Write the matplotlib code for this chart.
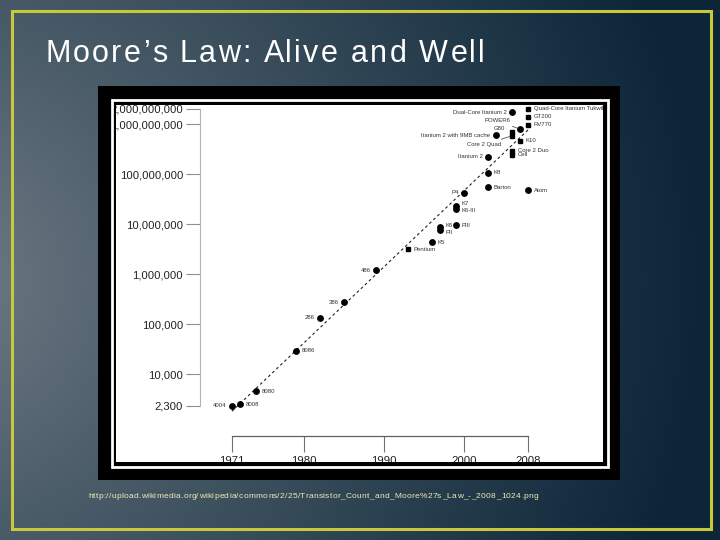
import numpy as np
import matplotlib
matplotlib.use('Agg')
import matplotlib.pyplot as plt
from matplotlib.patches import Rectangle
from matplotlib.ticker import NullLocator
from matplotlib.textpath import TextToPath
from matplotlib.font_manager import FontProperties

plt.rcParams['font.family'] = ['Liberation Sans', 'DejaVu Sans']

# transistor counts
chips = ['4004', '8008', '8080', '8086', '286', '386', '486', 'Pentium', 'K5',
         'K6', 'PII', 'PIII', 'K6-III', 'K7', 'P4', 'Barton', 'Atom', 'K8',
         'Itanium 2', 'Cell', 'Core 2 Duo', 'K10', 'Itanium 2 with 9MB cache',
         'Core 2 Quad', 'G80', 'POWER6', 'RV770', 'GT200',
         'Dual-Core Itanium 2', 'Quad-Core Itanium Tukwila']
years = [1971, 1972, 1974, 1979, 1982, 1985, 1989, 1993, 1996,
         1997, 1997, 1999, 1999, 1999, 2000, 2003, 2008, 2003,
         2003, 2006, 2006, 2007, 2004,
         2006, 2006, 2007, 2008, 2008,
         2006, 2008]
counts = [2300, 2500, 4500, 29000, 134000, 275000, 1200000, 3100000, 4300000,
          8800000, 7500000, 9500000, 19500000, 23000000, 42000000, 54300000, 47000000, 105900000,
          220000000, 241000000, 291000000, 463000000, 592000000,
          582000000, 681000000, 789000000, 956000000, 1400000000,
          1700000000, 2000000000]

# dashed trend line (doubling every ~2 years)
trend_years = [1971, 2008]
trend_counts = [1800, 760000000]

xtick_years = [1971, 1980, 1990, 2000, 2008]
ytick_vals = [2300, 1e4, 1e5, 1e6, 1e7, 1e8, 1e9, 2e9]
ytick_labels = ['2,300', '10,000', '100,000', '1,000,000', '10,000,000',
                '100,000,000', '1,000,000,000', '2,000,000,000']

title = 'Moore\u2019s Law: Alive and Well'
source = 'http://upload.wikimedia.org/wikipedia/commons/2/25/Transistor_Count_and_Moore%27s_Law_-_2008_1024.png'

# marker / label placement
squares = {'Pentium', 'Cell', 'Core 2 Duo', 'K10', 'Core 2 Quad', 'G80',
           'RV770', 'GT200', 'Quad-Core Itanium Tukwila'}
left_labels = {'4004', '286', '386', '486', 'P4', 'Itanium 2',
               'Itanium 2 with 9MB cache', 'G80', 'Dual-Core Itanium 2'}
label_shift = {'K7': (0, 1.5), 'K6-III': (0, -1.0), 'G80': (-1, 2.5),
               'K6': (0, 1.2), 'PII': (0, -1.4),
               'POWER6': (-7, 6), 'Core 2 Quad': (-7.5, -6.5)}
leaders = {'POWER6', 'Core 2 Quad'}

W, H = 720, 540
fig = plt.figure(figsize=(7.2, 5.4), dpi=100)


def fx(x):
    return x / W


def fy(y):
    return 1 - y / H


def px_rect(x0, y0, x1, y1, **kw):
    r = Rectangle((fx(x0), fy(y1)), (x1 - x0) / W, (y1 - y0) / H,
                  transform=fig.transFigure, **kw)
    fig.add_artist(r)
    return r


# slide background
ax_bg = fig.add_axes([0, 0, 1, 1], zorder=-5)
yy, xx = np.mgrid[0:H, 0:W]
t = np.clip(np.hypot(xx + 60, yy - 280) / 760, 0, 1) ** 0.9
c0 = np.array([112, 124, 134]) / 255
c1 = np.array([12, 38, 56]) / 255
ax_bg.imshow(c0 * (1 - t)[..., None] + c1 * t[..., None], aspect='auto')
ax_bg.axis('off')

px_rect(12, 10.5, 710.5, 529, fill=False, edgecolor='#c8c83c', linewidth=2.2, zorder=1)

# chart
ax = fig.add_axes([fx(116), fy(462), (603 - 116) / W, (462 - 105) / H])
ax.set_facecolor('white')
ax.set_yscale('log')
ax.set_xlim(1956.5, 2017.375)
ax.set_ylim(10 ** 2.24, 10 ** 9.38)

ax.plot(trend_years, trend_counts, color='#222222', lw=0.8, ls=(0, (2.5, 2.5)), zorder=2)

for name, yr, n in zip(chips, years, counts):
    if name in squares:
        ax.plot(yr, n, 's', ms=3.5, color='black', mec='black', zorder=3)
    else:
        ax.plot(yr, n, 'o', ms=3.9, color='black', zorder=3)

    sx, sy = label_shift.get(name, (0, 0))
    if name in leaders:
        dx, ha = 0, 'right'
        arrow = dict(arrowstyle='-', lw=0.5, color='#333333', shrinkA=0.5, shrinkB=1.5)
    elif name in left_labels:
        dx, ha, arrow = -4, 'right', None
    else:
        dx, ha, arrow = 4, 'left', None
    ax.annotate(name, (yr, n), xytext=(dx + sx, sy),
                textcoords='offset points', ha=ha, va='center', fontsize=4.3,
                color='#333333', arrowprops=arrow, clip_on=True, zorder=4)

for s in ['top', 'right']:
    ax.spines[s].set_visible(False)
ax.spines['left'].set_position(('data', 1967))
ax.spines['left'].set_bounds(ytick_vals[0], ytick_vals[-1])
ax.spines['left'].set_color('#b4b4b4')
ax.spines['left'].set_linewidth(0.8)
ax.spines['bottom'].set_position(('data', 575))
ax.spines['bottom'].set_bounds(xtick_years[0], xtick_years[-1])
ax.spines['bottom'].set_color('#606060')
ax.spines['bottom'].set_linewidth(0.9)

ax.set_xticks(xtick_years, [str(y) for y in xtick_years])
ax.set_yticks(ytick_vals, ytick_labels)
ax.yaxis.set_minor_locator(NullLocator())
ax.tick_params(axis='x', direction='out', length=11.5, width=0.8, color='#707070',
               pad=2.9, labelsize=8.2, labelcolor='#222222')
ax.tick_params(axis='y', direction='out', length=10, width=0.8, color='#909090',
               pad=2.2, labelsize=8.1, labelcolor='#222222')

# black photo frame with a thin white line, drawn over the chart edges
for x0, y0, x1, y1 in [(98, 86, 620, 105), (98, 462, 620, 480),
                       (98, 105, 116, 462), (603, 105, 620, 462)]:
    px_rect(x0, y0, x1, y1, facecolor='black', edgecolor='none', zorder=2)
px_rect(111.5, 100, 607.5, 466.5, fill=False, edgecolor='white', linewidth=2.0, zorder=3)

# letter-spaced slide texts
ttp = TextToPath()


def spaced_text(s, x0, y, width, size, color):
    prop = FontProperties(family='Liberation Sans', size=size)
    bar = ttp.get_text_width_height_descent('|', prop, ismath=False)[0]

    def adv(sub):
        if not sub:
            return 0.0
        return (ttp.get_text_width_height_descent(sub + '|', prop, ismath=False)[0] - bar) * 100 / 72

    sp = (width - adv(s)) / (len(s) - 1)
    for i, ch in enumerate(s):
        fig.text(fx(x0 + adv(s[:i]) + i * sp), fy(y), ch, fontproperties=prop,
                 color=color, ha='left', va='baseline', zorder=5)


spaced_text(title, 45, 62, 440, 22, 'white')
spaced_text(source, 88, 498, 450, 6, '#ecebb4')

fig.savefig('out.png', dpi=100)
